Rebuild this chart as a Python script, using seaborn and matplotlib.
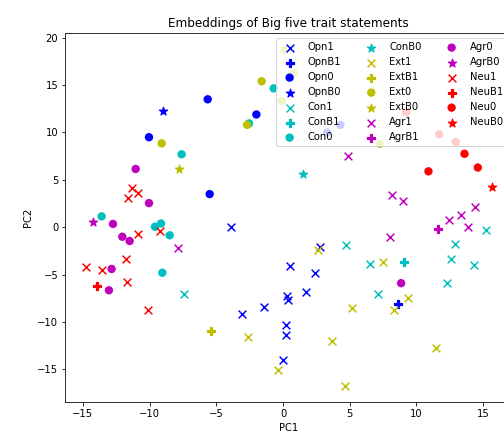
import matplotlib
matplotlib.use("Agg")
import matplotlib.pyplot as plt
import seaborn as sns

# PCA coordinates of the statement embeddings
opn1_pc1 = [-3.9, 2.75, 0.55, 2.4, 1.7, 0.3, 0.4, -1.4, -3.1, 0.2, 0.2, 0.0]
opn1_pc2 = [0.0, -2.1, -4.1, -4.8, -6.8, -7.3, -7.7, -8.4, -9.2, -10.3, -11.4, -14.0]
opnb1_pc1 = [8.65]
opnb1_pc2 = [-8.1]
opn0_pc1 = [-5.65, -10.05, -2.0, -5.5, 3.3, 4.3]
opn0_pc2 = [13.5, 9.5, 11.9, 3.5, 10.0, 10.8]
opnb0_pc1 = [-8.97]
opnb0_pc2 = [12.3]

con1_pc1 = [-7.4, 4.75, 6.55, 7.1, 12.3, 12.6, 12.9, 14.35, 15.2]
con1_pc2 = [-7.05, -1.9, -3.9, -7.05, -5.9, -3.35, -1.8, -4.0, -0.3]
conb1_pc1 = [9.08]
conb1_pc2 = [-3.65]
con0_pc1 = [-7.6, -0.7, -2.55, -13.6, -9.6, -9.15, -8.5, -9.05]
con0_pc2 = [7.7, 14.65, 10.95, 1.15, 0.05, 0.4, -0.85, -4.8]
conb0_pc1 = [1.5]
conb0_pc2 = [5.58]

ext1_pc1 = [2.6, 5.2, -2.6, 3.65, -0.4, 4.65, 9.4, 8.3, 11.5, 7.5]
ext1_pc2 = [-2.4, -8.5, -11.6, -12.0, -15.1, -16.7, -7.5, -8.7, -12.7, -3.7]
extb1_pc1 = [-5.37]
extb1_pc2 = [-10.95]
ext0_pc1 = [-9.1, -1.6, -2.7, 0.1, 0.8, -0.1, 7.25]
ext0_pc2 = [8.85, 15.4, 10.8, 18.7, 16.25, 13.3, 8.8]
extb0_pc1 = [-7.78]
extb0_pc2 = [6.14]

agr1_pc1 = [-7.9, 4.9, 8.15, 9.0, 12.45, 13.35, 14.4, 13.9, 8.0]
agr1_pc2 = [-2.2, 7.55, 3.45, 2.75, 0.8, 1.25, 2.1, 0.0, -1.0]
agrb1_pc1 = [11.63]
agrb1_pc2 = [-0.21]
agr0_pc1 = [-11.05, -10.05, -12.75, -12.05, -11.5, -12.85, -13.05, 8.85]
agr0_pc2 = [6.15, 2.55, 0.35, -1.0, -1.45, -4.4, -6.65, -5.9]
agrb0_pc1 = [-14.25]
agrb0_pc2 = [0.59]

neu1_pc1 = [-11.35, -10.85, -11.65, -10.9, -9.25, -11.8, -14.8, -13.6, -11.7, -10.15]
neu1_pc2 = [4.15, 3.65, 3.05, -0.7, -0.4, -3.35, -4.15, -4.5, -5.75, -8.7]
neub1_pc1 = [-13.97]
neub1_pc2 = [-6.2]
neu0_pc1 = [10.9, 14.6, 13.6, 9.25, 11.7, 12.95]
neu0_pc2 = [5.9, 6.3, 7.75, 12.15, 9.8, 9.0]
neub0_pc1 = [15.63]
neub0_pc2 = [4.27]

traits = ["Opn", "Con", "Ext", "Agr", "Neu"]
trait_colors = ["b", "c", "y", "m", "r"]
kinds = ["1", "B1", "0", "B0"]
kind_markers = ["x", "P", "o", "*"]

points = {
    "Opn1": (opn1_pc1, opn1_pc2), "OpnB1": (opnb1_pc1, opnb1_pc2),
    "Opn0": (opn0_pc1, opn0_pc2), "OpnB0": (opnb0_pc1, opnb0_pc2),
    "Con1": (con1_pc1, con1_pc2), "ConB1": (conb1_pc1, conb1_pc2),
    "Con0": (con0_pc1, con0_pc2), "ConB0": (conb0_pc1, conb0_pc2),
    "Ext1": (ext1_pc1, ext1_pc2), "ExtB1": (extb1_pc1, extb1_pc2),
    "Ext0": (ext0_pc1, ext0_pc2), "ExtB0": (extb0_pc1, extb0_pc2),
    "Agr1": (agr1_pc1, agr1_pc2), "AgrB1": (agrb1_pc1, agrb1_pc2),
    "Agr0": (agr0_pc1, agr0_pc2), "AgrB0": (agrb0_pc1, agrb0_pc2),
    "Neu1": (neu1_pc1, neu1_pc2), "NeuB1": (neub1_pc1, neub1_pc2),
    "Neu0": (neu0_pc1, neu0_pc2), "NeuB0": (neub0_pc1, neub0_pc2),
}

fig = plt.figure(figsize=(504 / 72, 442 / 72), dpi=72)
ax = fig.add_axes([0.1296, 0.0898, 0.886, 0.835])

for trait, color in zip(traits, trait_colors):
    for kind, marker in zip(kinds, kind_markers):
        name = trait + kind
        xs, ys = points[name]
        if marker == "x":
            sns.scatterplot(x=xs, y=ys, color=color, marker=marker, s=60,
                            linewidth=1.5, label=name, ax=ax)
        elif marker == "o":
            sns.scatterplot(x=xs, y=ys, color=color, marker=marker, s=70,
                            edgecolor="none", label=name, ax=ax)
        else:
            # stars and filled plus signs look as heavy as the dots
            sns.scatterplot(x=xs, y=ys, color=color, marker=marker, s=75,
                            edgecolor=color, linewidth=1.2, label=name, ax=ax)

ax.set_title("Embeddings of Big five trait statements", fontsize=12)
ax.set_xlabel("PC1")
ax.set_ylabel("PC2")
ax.legend(loc="upper right", ncol=3, fontsize=10)

fig.savefig("out.png", dpi=72)
